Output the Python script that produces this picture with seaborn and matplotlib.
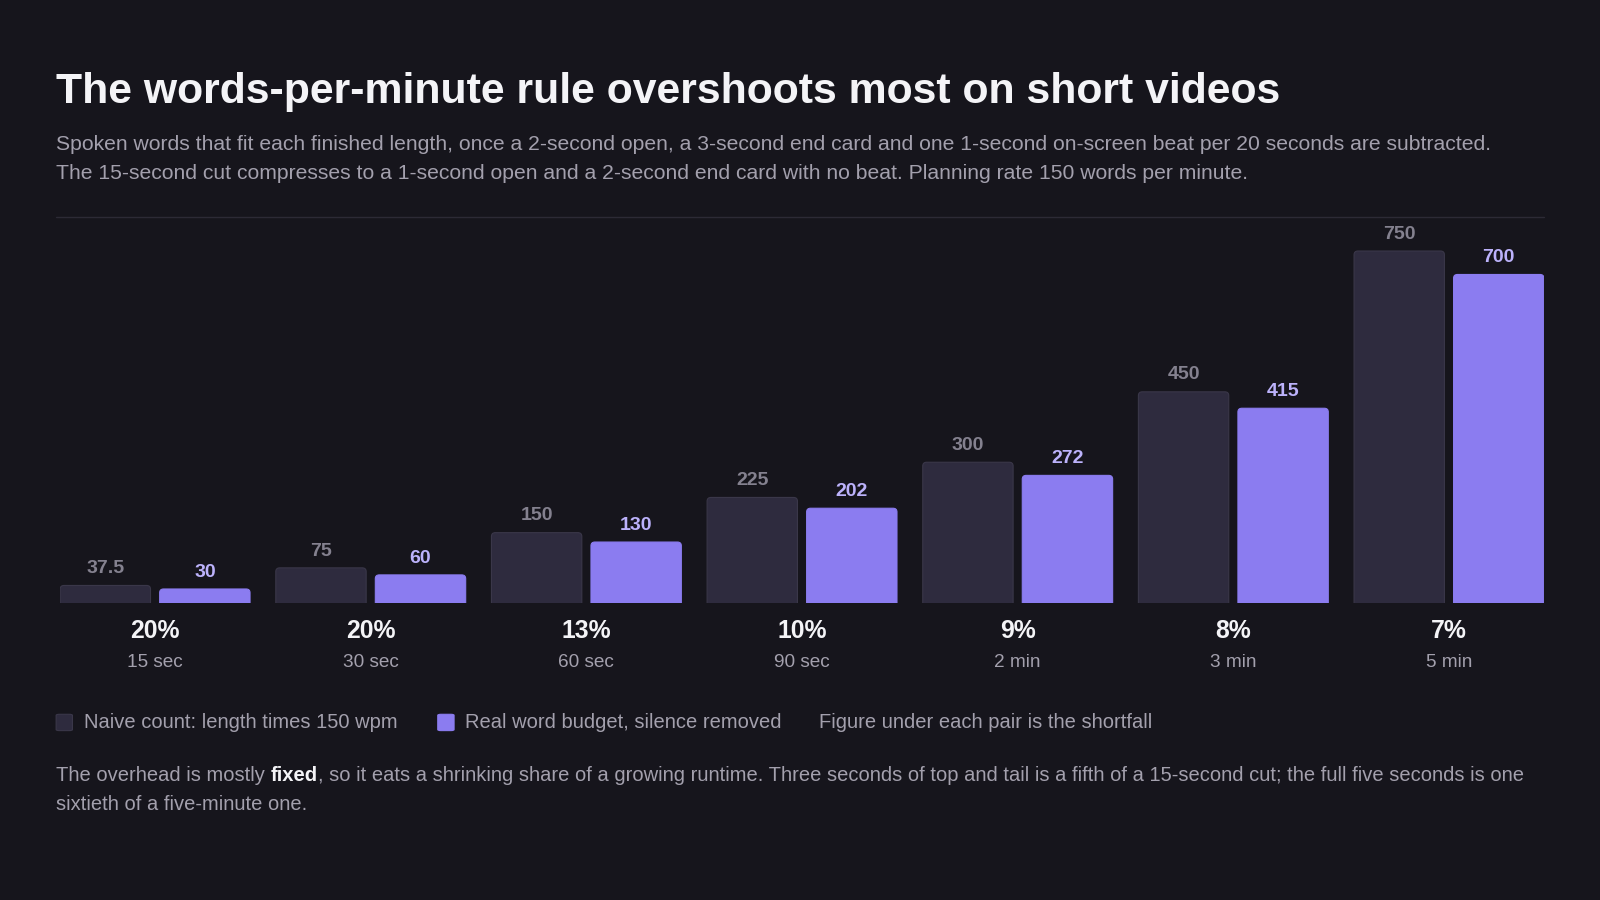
import matplotlib
matplotlib.use("Agg")
import matplotlib.pyplot as plt
from matplotlib.patches import FancyBboxPatch
import seaborn as sns
import pandas as pd

# ---- data ----
lengths = ["15 sec", "30 sec", "60 sec", "90 sec", "2 min", "3 min", "5 min"]
naive_words = [37.5, 75, 150, 225, 300, 450, 750]
real_words = [30, 60, 130, 202, 272, 415, 700]
shortfall_labels = ["20%", "20%", "13%", "10%", "9%", "8%", "7%"]
series_names = ["Naive count: length times 150 wpm", "Real word budget, silence removed"]

BG = "#16151c"
NAIVE_C = "#2e2b3e"
REAL_C = "#8b7cf0"
NAIVE_TXT = "#84818f"
REAL_TXT = "#bcb2fb"
TITLE_C = "#f4f4f7"
SUB_C = "#a3a0ad"

sns.set_theme(style="dark")
plt.rcParams["font.family"] = ["Liberation Sans", "DejaVu Sans"]

df = pd.DataFrame({
    "length": lengths * 2,
    "words": naive_words + real_words,
    "series": [series_names[0]] * len(lengths) + [series_names[1]] * len(lengths),
})

fig = plt.figure(figsize=(16, 9), dpi=100, facecolor=BG)
ax = fig.add_axes([59 / 1568, 1 - 591 / 882, (1513 - 59) / 1568, (591 - 213) / 882])
ax.set_facecolor(BG)

sns.barplot(data=df, x="length", y="words", hue="series", order=lengths,
            hue_order=series_names, palette=[NAIVE_C, REAL_C], width=0.923,
            gap=0.092, ax=ax, legend=False, saturation=1, errorbar=None)

ymax = 821.7
ax.set_xlim(-0.44, len(lengths) - 1 + 0.44)
ax.set_ylim(0, ymax)

# rounded top corners, derived from seaborn's bars
bars = list(ax.patches)
ry = 8.0
rx = 0.018
naive_rgba = matplotlib.colors.to_rgba(NAIVE_C)
for p in bars:
    x, w, h = p.get_x(), p.get_width(), p.get_height()
    fc = p.get_facecolor()
    is_naive = abs(fc[0] - naive_rgba[0]) < 0.05
    fb = FancyBboxPatch((x, -ry), w, h + ry,
                        boxstyle=f"round,pad=0,rounding_size={rx}",
                        mutation_aspect=ry / rx, facecolor=fc,
                        edgecolor="#3a3749" if is_naive else fc,
                        linewidth=0.8, clip_on=True, zorder=2)
    ax.add_patch(fb)
    p.set_visible(False)
    lab = f"{h:g}"
    ax.annotate(lab, (x + w / 2, h), xytext=(0, 6), textcoords="offset points",
                ha="center", va="bottom", fontsize=14,
                color=NAIVE_TXT if is_naive else REAL_TXT,
                fontweight="bold", zorder=3)

for i, (pct, name) in enumerate(zip(shortfall_labels, lengths)):
    ax.annotate(pct, (i, 0), xytext=(0, -19.8), textcoords="offset points",
                ha="center", va="center", fontsize=17.8, fontweight="bold",
                color=TITLE_C, annotation_clip=False)
    ax.annotate(name, (i, 0), xytext=(0, -42.6), textcoords="offset points",
                ha="center", va="center", fontsize=13.7, color=SUB_C,
                annotation_clip=False)

ax.set_xticks([])
ax.set_yticks([])
ax.set_xlabel("")
ax.set_ylabel("")
for s in ax.spines.values():
    s.set_visible(False)
ax.grid(False)

# ---- header ----
X0 = 55 / 1568
FS = 15.2
fig.text(X0, 1 - 90 / 882, "The words-per-minute rule overshoots most on short videos",
         fontsize=30.75, fontweight="bold", color=TITLE_C, va="center", ha="left")
fig.text(X0, 1 - 142 / 882,
         "Spoken words that fit each finished length, once a 2-second open, a 3-second end card and one 1-second on-screen beat per 20 seconds are subtracted.",
         fontsize=FS, color=SUB_C, va="center", ha="left")
fig.text(X0, 1 - 170 / 882,
         "The 15-second cut compresses to a 1-second open and a 2-second end card with no beat. Planning rate 150 words per minute.",
         fontsize=FS, color=SUB_C, va="center", ha="left")
fig.add_artist(plt.Line2D([X0, 1513 / 1568], [1 - 213 / 882] * 2, color="#2c2a35",
                          linewidth=1.0, transform=fig.transFigure))

# ---- legend ----
LS = 14.5
ly = 1 - 708 / 882
sq_w = 16 / 1568
sq_h = 16 / 882
for sx, col, ec in [(55 / 1568, NAIVE_C, "#3a3749"), (429 / 1568, REAL_C, REAL_C)]:
    fig.add_artist(FancyBboxPatch((sx, ly - sq_h / 2), sq_w, sq_h,
                                  boxstyle="round,pad=0,rounding_size=0.002",
                                  mutation_aspect=882 / 1568,
                                  facecolor=col, edgecolor=ec, linewidth=0.8,
                                  transform=fig.transFigure))
fig.text(82 / 1568, ly, series_names[0], fontsize=LS, color=SUB_C, va="center")
fig.text(456 / 1568, ly, series_names[1], fontsize=LS, color=SUB_C, va="center")
fig.text(803 / 1568, ly, "Figure under each pair is the shortfall", fontsize=LS,
         color=SUB_C, va="center")

# ---- footer with bold word ----
fy1 = 1 - 760 / 882
fy2 = 1 - 788 / 882
renderer = fig.canvas.get_renderer()
t1 = fig.text(X0, fy1, "The overhead is mostly ", fontsize=LS, color=SUB_C, va="center")
bb = t1.get_window_extent(renderer)
x2 = fig.transFigure.inverted().transform((bb.x1, bb.y0))[0]
t2 = fig.text(x2, fy1, "fixed", fontsize=LS, color=TITLE_C, fontweight="bold", va="center")
bb2 = t2.get_window_extent(renderer)
x3 = fig.transFigure.inverted().transform((bb2.x1, bb2.y0))[0]
fig.text(x3, fy1,
         ", so it eats a shrinking share of a growing runtime. Three seconds of top and tail is a fifth of a 15-second cut; the full five seconds is one",
         fontsize=LS, color=SUB_C, va="center")
fig.text(X0, fy2, "sixtieth of a five-minute one.", fontsize=LS, color=SUB_C, va="center")

fig.savefig("out.png", dpi=100, facecolor=BG)
